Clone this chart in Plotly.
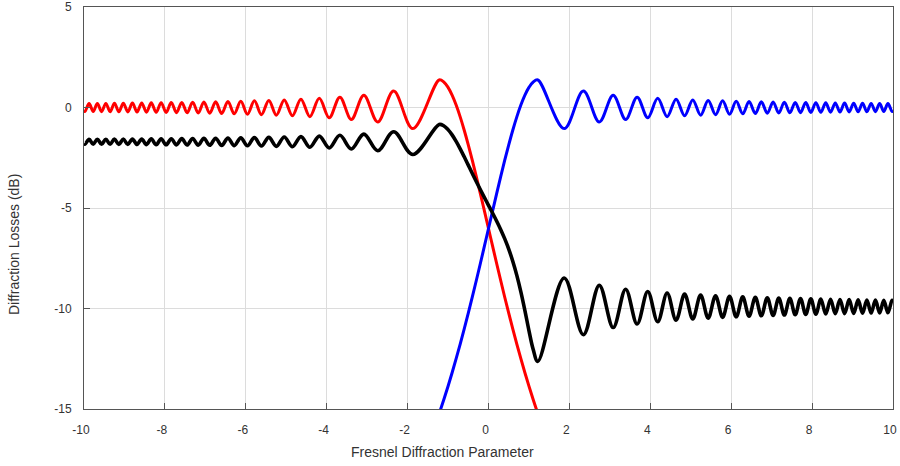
import plotly.graph_objects as go

# |v| positions of the ripple extrema (k = 0..49)
ripple_v = [1.22, 1.871, 2.345, 2.739, 3.082, 3.391, 3.674, 3.937, 4.183, 4.416,
            4.637, 4.848, 5.050, 5.244, 5.431, 5.613, 5.788, 5.958, 6.124, 6.285,
            6.442, 6.596, 6.745, 6.892, 7.036, 7.176, 7.314, 7.450, 7.583, 7.714,
            7.842, 7.969, 8.093, 8.216, 8.337, 8.456, 8.573, 8.689, 8.803, 8.916,
            9.028, 9.138, 9.247, 9.354, 9.460, 9.566, 9.670, 9.772, 9.874, 9.975]

# lit-side ripple of the red curve (left) / blue curve (right), dB, k = 0..49
lit_ripple_db = [1.37, -1.05, 0.82, -0.72, 0.611, -0.596, 0.516, -0.511, 0.455, -0.454,
                 0.411, -0.413, 0.378, -0.381, 0.352, -0.355, 0.331, -0.334, 0.313, -0.317,
                 0.298, -0.302, 0.285, -0.288, 0.273, -0.277, 0.263, -0.266, 0.254, -0.257,
                 0.246, -0.249, 0.238, -0.241, 0.231, -0.234, 0.225, -0.228, 0.219, -0.222,
                 0.214, -0.217, 0.209, -0.212, 0.204, -0.207, 0.200, -0.202, 0.196, -0.198]

# red curve through the transition region
red_mid_v = [-1.1, -1.0, -0.9, -0.8, -0.7, -0.6, -0.5, -0.4, -0.3, -0.2, -0.1, 0.0,
             0.1, 0.2, 0.3, 0.4, 0.5, 0.6, 0.7, 0.8, 0.9, 1.0, 1.1, 1.2]
red_mid_db = [1.257, 1.000, 0.616, 0.121, -0.466, -1.131, -1.859, -2.636, -3.451, -4.294,
              -5.154, -6.021, -6.887, -7.749, -8.595, -9.427, -10.233, -11.015, -11.772,
              -12.498, -13.197, -13.865, -14.503, -15.11]

# blue curve through the transition region
blue_mid_v = [-1.2, -1.1, -1.0, -0.9, -0.8, -0.7, -0.6, -0.5, -0.4, -0.3, -0.2, -0.1,
              0.0, 0.1, 0.2, 0.3, 0.4, 0.5, 0.6, 0.7, 0.8, 0.9, 1.0, 1.1]
blue_mid_db = [-15.11, -14.503, -13.865, -13.197, -12.498, -11.772, -11.015, -10.233,
               -9.427, -8.595, -7.749, -6.887, -6.021, -5.154, -4.294, -3.451, -2.636,
               -1.859, -1.131, -0.466, 0.121, 0.616, 1.000, 1.257]

# black curve: left ripple (k = 0..49), transition, right ripple (k = 0..49)
black_left_db = [-0.845, -2.34, -1.209, -2.150, -1.324, -2.062, -1.384, -2.012, -1.422, -1.978,
                 -1.449, -1.953, -1.470, -1.934, -1.486, -1.918, -1.499, -1.906, -1.510, -1.895,
                 -1.520, -1.886, -1.528, -1.878, -1.535, -1.871, -1.541, -1.865, -1.547, -1.859,
                 -1.552, -1.854, -1.557, -1.850, -1.561, -1.845, -1.565, -1.841, -1.568, -1.838,
                 -1.572, -1.835, -1.575, -1.831, -1.578, -1.829, -1.580, -1.826, -1.583, -1.823]
black_mid_v = [-1.1, -1.0, -0.9, -0.8, -0.7, -0.6, -0.5, -0.4, -0.3, -0.2, -0.1, 0.0,
               0.1, 0.2, 0.3, 0.4, 0.5, 0.6, 0.7, 0.8, 0.9, 1.0, 1.1]
black_mid_db = [-0.923, -1.10, -1.361, -1.686, -2.055, -2.453, -2.867, -3.282, -3.693,
                -4.094, -4.485, -4.866, -5.249, -5.645, -6.064, -6.526, -7.045, -7.648,
                -8.352, -9.17, -10.10, -11.10, -12.00]
black_right_db = [-12.63, -8.48, -11.304, -8.849, -10.949, -9.039, -10.772, -9.153, -10.661, -9.230,
                  -10.584, -9.287, -10.526, -9.332, -10.480, -9.368, -10.443, -9.398, -10.413, -9.423,
                  -10.386, -9.444, -10.364, -9.463, -10.344, -9.480, -10.326, -9.495, -10.311, -9.508,
                  -10.297, -9.520, -10.284, -9.532, -10.273, -9.542, -10.262, -9.551, -10.253, -9.560,
                  -10.244, -9.568, -10.235, -9.575, -10.227, -9.582, -10.220, -9.589, -10.213, -9.595]

# end values at v = -10 and v = +10
red_end_db = -0.14
blue_end_db = -0.14
black_left_end_db = -1.79
black_right_end_db = -9.68

x_ticks = [-10, -8, -6, -4, -2, 0, 2, 4, 6, 8, 10]
y_ticks = [-15, -10, -5, 0, 5]

# assemble series
left_x = [-v for v in reversed(ripple_v)]
right_x = list(ripple_v)

red_x = [-10] + left_x + red_mid_v
red_y = [red_end_db] + list(reversed(lit_ripple_db)) + red_mid_db

blue_x = blue_mid_v + right_x + [10]
blue_y = blue_mid_db + lit_ripple_db + [blue_end_db]

black_x = [-10] + left_x + black_mid_v + right_x + [10]
black_y = ([black_left_end_db] + list(reversed(black_left_db)) + black_mid_db
           + black_right_db + [black_right_end_db])

fig = go.Figure()
for xs, ys, col, w in [(red_x, red_y, "#ff0000", 3),
                       (blue_x, blue_y, "#0000ff", 3),
                       (black_x, black_y, "#000000", 3.6)]:
    fig.add_trace(go.Scatter(x=xs, y=ys, mode="lines",
                             line=dict(color=col, width=w, shape="spline", smoothing=1),
                             showlegend=False, hoverinfo="skip"))

axis_common = dict(showgrid=True, gridcolor="#dcdcdc", gridwidth=1,
                   showline=True, linecolor="#555555", linewidth=1, mirror=True,
                   ticks="inside", ticklen=6, tickcolor="#555555", zeroline=False,
                   automargin=False,
                   tickfont=dict(family="Liberation Sans, Arial, sans-serif", size=12, color="#333333"))

fig.update_xaxes(range=[-10, 10], tickvals=x_ticks, ticktext=[str(t) for t in x_ticks],
                 ticklabelstandoff=10, ticklabelshift=-3, **axis_common)
fig.update_yaxes(range=[-15, 5], tickvals=y_ticks, ticktext=[str(t) for t in y_ticks],
                 ticklabelstandoff=9, **axis_common)

fig.update_layout(
    width=900, height=466,
    margin=dict(l=84, r=7, t=7, b=57, autoexpand=False),
    paper_bgcolor="white", plot_bgcolor="white",
    font=dict(family="Liberation Sans, Arial, sans-serif", color="#333333"),
    annotations=[
        dict(text="Fresnel Diffraction Parameter", xref="paper", yref="paper",
             x=(442 - 84) / 809, y=(409 - 452) / 402, xanchor="center", yanchor="middle",
             showarrow=False, font=dict(size=14, color="#333333")),
        dict(text="Diffraction Losses (dB)", xref="paper", yref="paper",
             x=(14 - 84) / 809, y=(409 - 245) / 402, xanchor="center", yanchor="middle",
             textangle=-90, showarrow=False, font=dict(size=14, color="#333333")),
    ],
)

fig.write_html("out.html")
